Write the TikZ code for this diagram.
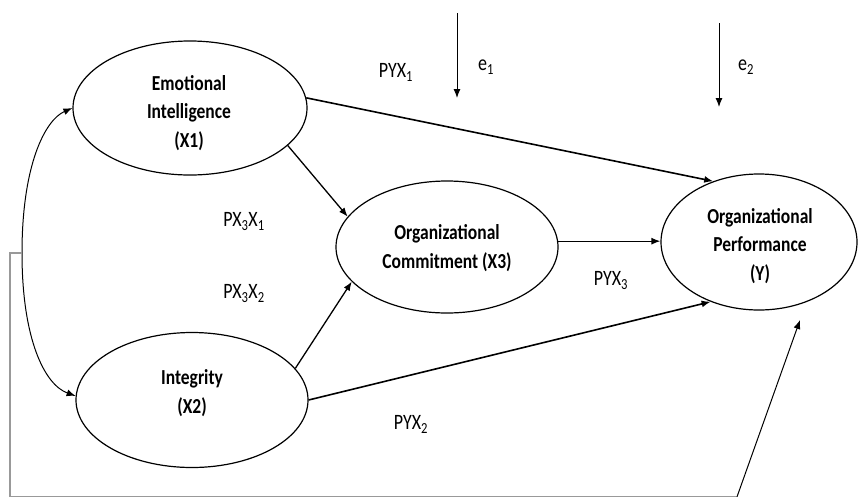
\documentclass[tikz,border=0pt]{standalone}
\usepackage{fontspec}
\usepackage{graphicx}
\setmainfont{Carlito}
\usetikzlibrary{shapes.geometric,arrows.meta}
\newcommand{\stretchtxt}[1]{\scalebox{1}[1.22]{\begin{tabular}{@{}c@{}}#1\end{tabular}}}
\tikzset{
  latent/.style={draw,ellipse,line width=1.2pt,inner sep=0pt},
  etext/.style={align=center,inner sep=0pt,font=\fontsize{17.5}{23.5}\selectfont\bfseries},
  plabel/.style={inner sep=0pt,font=\fontsize{18}{20}\selectfont},
  path/.style={line width=1.3pt,-{Latex[length=9pt,width=7pt]}},
  thinpath/.style={line width=1pt,-{Latex[length=9pt,width=7pt]}},
}
\begin{document}
\begin{tikzpicture}[x=1pt,y=-1pt]
\useasboundingbox (0,0) rectangle (864,496);
% latent variables
\node[latent,minimum width=234pt,minimum height=134pt] (X1) at (190,108) {};
\node[latent,minimum width=232pt,minimum height=135pt] (X2) at (192,400) {};
\node[latent,minimum width=222pt,minimum height=132pt] (X3) at (447,247) {};
\node[latent,minimum width=196pt,minimum height=136pt] (Y) at (759,242) {};
% texts
\node[etext] (X1t) at (189,113) {\stretchtxt{Emotional\\Intelligence\\(X1)}};
\node[etext] (X2t) at (192,393) {\stretchtxt{Integrity\\(X2)}};
\node[etext] (X3t) at (447,248) {\stretchtxt{Organizational\\Commitment (X3)}};
\node[etext] (Yt) at (760,246) {\stretchtxt{Organizational\\Performance\\(Y)}};
% path labels
\node[plabel] (l1) at (396,73) {\stretchtxt{PYX\textsubscript{1}}};
\node[plabel] (le1) at (486,66) {\stretchtxt{e\textsubscript{1}}};
\node[plabel] (le2) at (746,66) {\stretchtxt{e\textsubscript{2}}};
\node[plabel] (l31) at (244,222) {\stretchtxt{PX\textsubscript{3}X\textsubscript{1}}};
\node[plabel] (l32) at (244,294) {\stretchtxt{PX\textsubscript{3}X\textsubscript{2}}};
\node[plabel] (l3) at (611,281) {\stretchtxt{PYX\textsubscript{3}}};
\node[plabel] (l2) at (411,425) {\stretchtxt{PYX\textsubscript{2}}};
% coordinates
\coordinate (e1s) at (457,13);
\coordinate (e1e) at (457,98);
\coordinate (e2s) at (719,23);
\coordinate (e2e) at (719,107);
\coordinate (arcmid) at (22,253);
\coordinate (b1) at (10,253);
\coordinate (b2) at (10,496.8);
\coordinate (b3) at (737,496.8);
\coordinate (bt) at (800,320);
% structural paths
\draw[path,line width=1.6pt] (X1.5) -- (Y.127);
\draw[path] (X1.-21) -- (X3.163);
\draw[path] (X2.17) -- (X3.200);
\draw[path,line width=1.6pt] (X2.east) -- (Y.231);
\draw[path] (X3.3) -- (X3.3 -| Y.west);
% errors
\draw[thinpath] (e1s) -- (e1e);
\draw[thinpath] (e2s) -- (e2e);
% correlation arc
\draw[line width=1pt,{Latex[length=9pt,width=7pt]}-{Latex[length=9pt,width=7pt]}]
  (X1.west) .. controls (45,120) and (22,165) .. (arcmid)
  .. controls (22,340) and (45,385) .. (X2.178);
% bracket line
\draw[line width=1.2pt,gray!80] (arcmid) -- (b1) -- (b2) -- (b3);
\draw[thinpath] (b3) -- (bt);
\end{tikzpicture}
\end{document}
